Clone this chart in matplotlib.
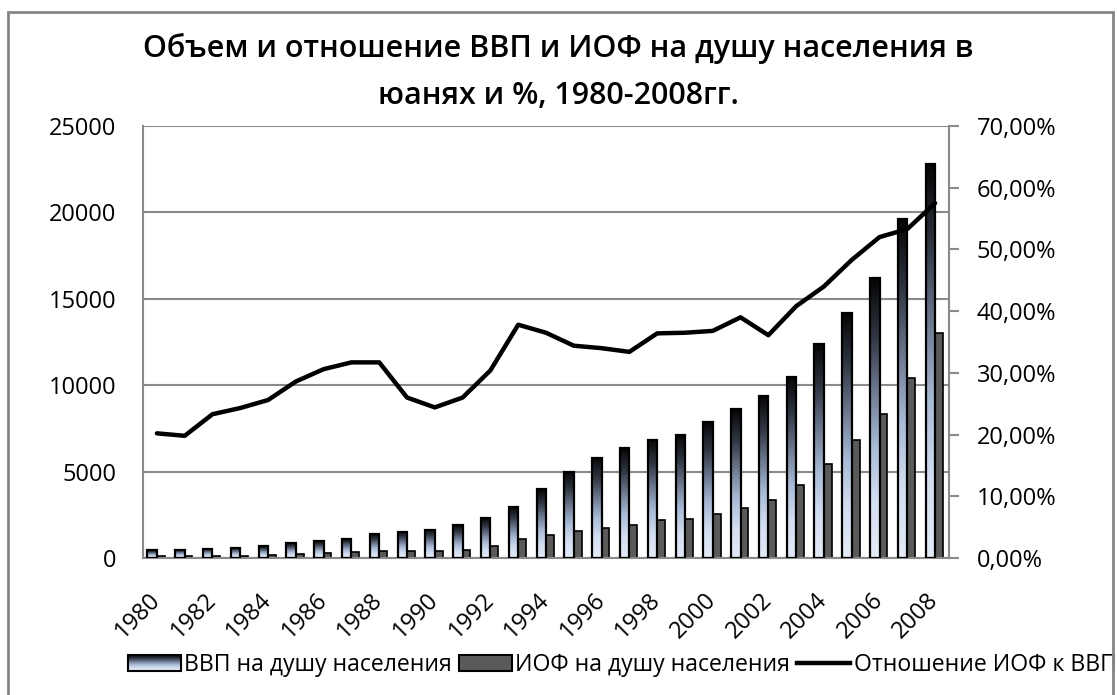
import matplotlib
matplotlib.use('Agg')
import matplotlib.pyplot as plt
import matplotlib.patches as mpatches
from matplotlib.lines import Line2D
from matplotlib.legend_handler import HandlerBase
from matplotlib.colors import LinearSegmentedColormap
from matplotlib.ticker import FuncFormatter
import numpy as np

plt.rcParams['font.family'] = ['Open Sans', 'DejaVu Sans']

# ─── Данные ────────────────────────────────────────────────────────────────
years = list(range(1980, 2009))
gdp_pc = [460, 490, 530, 580, 690, 860, 960, 1110, 1370, 1520,
          1640, 1890, 2310, 2950, 3990, 5000, 5800, 6350, 6850, 7100,
          7850, 8600, 9400, 10500, 12400, 14150, 16200, 19600, 22800]
iof_pc = [95, 97, 122, 140, 176, 243, 294, 352, 434, 394,
          399, 489, 702, 1115, 1340, 1570, 1750, 1920, 2200, 2270,
          2550, 2900, 3370, 4240, 5450, 6800, 8350, 10400, 13000]
ratio_pct = [20.2, 19.8, 23.3, 24.3, 25.6, 28.6, 30.6, 31.7, 31.7, 26.0,
             24.4, 26.0, 30.4, 37.8, 36.5, 34.4, 34.0, 33.4, 36.4, 36.5,
             36.8, 39.0, 36.1, 40.8, 44.0, 48.3, 52.0, 53.3, 57.5]

title = 'Объем и отношение ВВП и ИОФ на душу населения в\nюанях и %, 1980-2008гг.'
lbl_gdp = 'ВВП на душу населения'
lbl_iof = 'ИОФ на душу населения'
lbl_ratio = 'Отношение ИОФ к ВВП'

# ─── Стиль ─────────────────────────────────────────────────────────────────
C_GRID = '#8a8a8a'
C_IOF = '#5a5a5a'
GRAD = LinearSegmentedColormap.from_list(
    'grad', ['#050505', '#2e3440', '#6c788e', '#a9bad6', '#d3def0', '#e4ebf7'])


class GradHandler(HandlerBase):
    def create_artists(self, legend, orig, xd, yd, w, h, fontsize, trans):
        arts = []
        n = 16
        for k in range(n):
            c = GRAD(1 - (k + 0.5) / n)
            arts.append(mpatches.Rectangle((-xd, -yd + h * k / n), w, h / n,
                                           fc=c, ec='none', transform=trans))
        arts.append(mpatches.Rectangle((-xd, -yd), w, h, fc='none', ec='black',
                                       lw=1.5, transform=trans))
        return arts


W, H = 1117, 695
fig = plt.figure(figsize=(W / 100, H / 100), dpi=100)
fig.patch.set_facecolor('white')
ax = fig.add_axes([143 / W, 1 - 558 / H, (949 - 143) / W, (558 - 126) / H])
ax2 = ax.twinx()

x = np.arange(len(years))
bw1, bw2 = 0.34, 0.28

# ИОФ bars
ax.bar(x + bw2 / 2, iof_pc, width=bw2, color=C_IOF, edgecolor='black',
       linewidth=1.2, zorder=2)

# ВВП bars with vertical gradient
grad = np.linspace(0, 1, 256).reshape(-1, 1)
bars = ax.bar(x - bw1 / 2, gdp_pc, width=bw1, color='none', edgecolor='black',
              linewidth=1.6, zorder=3)
for b in bars:
    x0, y0 = b.get_x(), b.get_y()
    im = ax.imshow(grad, cmap=GRAD, aspect='auto', origin='upper',
                   extent=(x0, x0 + b.get_width(), y0, y0 + b.get_height()),
                   zorder=2.5, interpolation='bilinear')
    im.set_clip_path(b)

ax.set_xlim(-0.5, len(years) - 0.5)
ax.set_ylim(0, 25000)
ax.set_yticks(np.arange(0, 25001, 5000))
ax.yaxis.grid(True, color=C_GRID, lw=1.5)
ax.set_axisbelow(True)
ax.tick_params(axis='y', length=0, labelsize=17, pad=19)
ax.set_xticks(x[::2])
ax.set_xticklabels([str(y) for y in years[::2]], rotation=45, ha='right',
                   va='center', rotation_mode='anchor', fontsize=17)
ax.tick_params(axis='x', length=0, pad=28)

# line
ax2.plot(x, ratio_pct, color='black', lw=3.2, solid_joinstyle='round',
         solid_capstyle='round', zorder=5)
ax2.set_ylim(0, 70)
ax2.set_yticks(np.arange(0, 71, 10))
ax2.yaxis.set_major_formatter(FuncFormatter(lambda v, p: f'{v:.2f}%'.replace('.', ',')))
ax2.tick_params(axis='y', length=7, width=1.5, color=C_GRID, labelsize=17, pad=13)

for a in (ax, ax2):
    for s in a.spines.values():
        s.set_visible(False)
ax.spines['left'].set_visible(True)
ax.spines['bottom'].set_visible(True)
ax2.spines['right'].set_visible(True)
for s in (ax.spines['left'], ax.spines['bottom'], ax2.spines['right']):
    s.set_color(C_GRID)
    s.set_linewidth(1.5)

fig.text(0.5, 1 - 72 / H, title, ha='center', va='center', fontsize=22,
         fontweight='semibold', linespacing=1.75)

h1 = mpatches.Rectangle((0, 0), 1, 1)
h2 = mpatches.Patch(facecolor=C_IOF, edgecolor='black', lw=1.5)
h3 = Line2D([], [], color='black', lw=3.2)
fig.legend([h1, h2, h3], [lbl_gdp, lbl_iof, lbl_ratio], ncol=3,
           loc='center', bbox_to_anchor=(622 / W, 1 - 665 / H),
           frameon=False, fontsize=16.6, handlelength=2.3, handleheight=0.7,
           handletextpad=0.15, columnspacing=0.3,
           handler_map={h1: GradHandler()})

border = mpatches.Rectangle((8 / W, -0.02), (1113 - 8) / W, (H - 12) / H + 0.02,
                            transform=fig.transFigure, fill=False,
                            edgecolor='#868686', lw=2, zorder=10, clip_on=False)
fig.patches.append(border)

fig.savefig('out.png', dpi=100, facecolor='white')
